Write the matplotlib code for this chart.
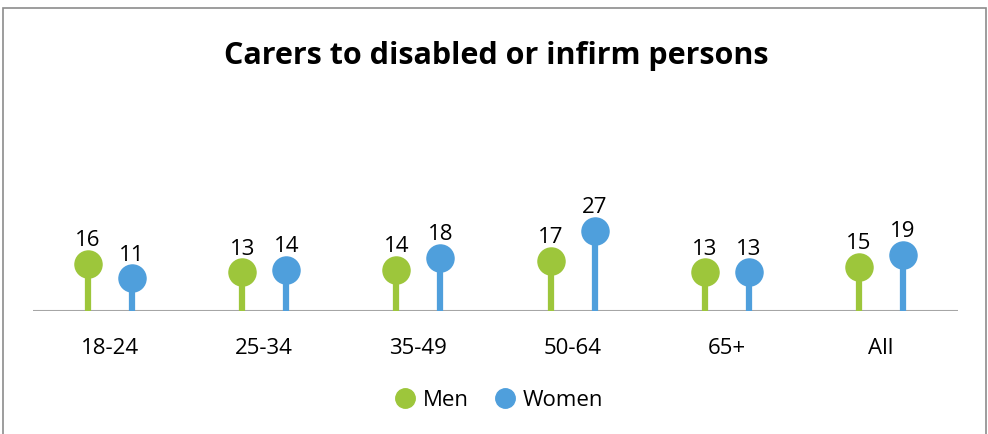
import matplotlib
matplotlib.use("Agg")
import matplotlib.pyplot as plt
from matplotlib.patches import Rectangle
from matplotlib.lines import Line2D
import numpy as np

categories = ["18-24", "25-34", "35-49", "50-64", "65+", "All"]
men = [16, 13, 14, 17, 13, 15]
women = [11, 14, 18, 27, 13, 19]
series_names = ["Men", "Women"]

green = "#9DC63B"
blue = "#4F9FDC"
font = "Open Sans"

W, H = 988, 435
fig = plt.figure(figsize=(W / 100, H / 100), dpi=100)

# border box
fig.patches.append(Rectangle((3 / W, -0.05), 983 / W, (435 - 9) / H + 0.05,
                             transform=fig.transFigure, fill=False,
                             edgecolor="#8c8c8c", linewidth=1.2))

ax = fig.add_axes([33 / W, (435 - 312) / H, 925 / W, 118.5 / H])
ax.set_xlim(0, len(categories))
ax.set_ylim(0, 40)
ax.axis("off")
ax.axhline(0, color="#a6a6a6", linewidth=1.5, zorder=1)

x = np.arange(len(categories)) + 0.5
off = 22 / 154.2
for vals, col, dx in [(men, green, -off), (women, blue, off)]:
    xs = x + dx
    ax.vlines(xs, 0, vals, color=col, linewidth=4.5, zorder=2)
    ax.plot(xs, vals, "o", color=col, markersize=19.5, zorder=3, clip_on=False)
    for xi, v in zip(xs, vals):
        ax.annotate(str(v), (xi, v), xytext=(0, 13.5), textcoords="offset points",
                    ha="center", va="baseline", fontsize=16, family=font,
                    color="#000000")

for xi, c in zip(x, categories):
    ax.annotate(c, (xi, 0), xytext=(0, -26.5), textcoords="offset points",
                ha="center", va="center", fontsize=16, family=font,
                color="#000000")

fig.text(496 / W, 1 - 64 / H, "Carers to disabled or infirm persons",
         ha="center", va="baseline", fontsize=22, fontweight="bold", family=font)

handles = [Line2D([], [], marker="o", linestyle="none", color=green, markersize=14),
           Line2D([], [], marker="o", linestyle="none", color=blue, markersize=14)]
fig.legend(handles, series_names, loc="center", bbox_to_anchor=(493 / W, 1 - 401 / H),
           ncol=2, frameon=False, handletextpad=-0.2, columnspacing=0.6,
           prop={"family": font, "size": 16})

fig.savefig("out.png", dpi=100)
